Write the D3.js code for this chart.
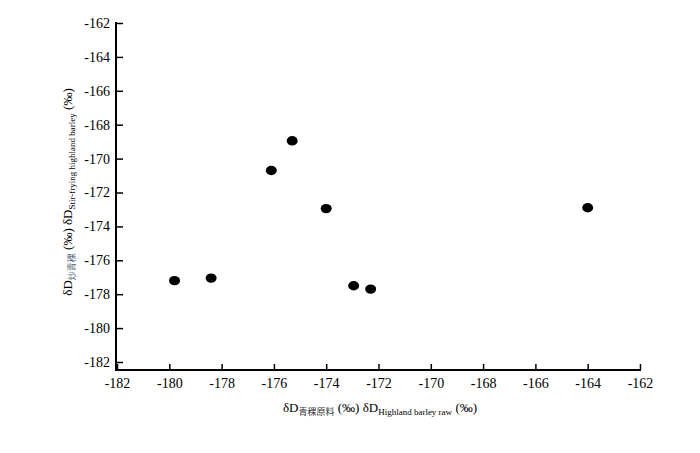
<!DOCTYPE html>
<html><head><meta charset="utf-8">
<script src="https://cdn.jsdelivr.net/npm/d3@7"></script>
<style>
body{margin:0;background:#fff;}
</style></head>
<body><svg id="c" width="700" height="453"></svg>
<script>
const rawValues = [-179.8, -178.4, -176.1, -175.3, -174.0, -172.95, -172.3, -164.0];
const stirValues = [-177.2, -177.05, -170.7, -168.95, -172.95, -177.5, -177.7, -172.9];
const xTicks = [-182,-180,-178,-176,-174,-172,-170,-168,-166,-164,-162];
const yTicks = [-182,-180,-178,-176,-174,-172,-170,-168,-166,-164,-162];

const SERIF = "'Liberation Serif','Times New Roman',serif";
const svg = d3.select("#c").attr("font-family",SERIF);
const x = d3.scaleLinear().domain([-182,-162]).range([117,640]);
const y = d3.scaleLinear().domain([-182,-162]).range([362,23]);
const axisY = 370, axisX = 116;

// x axis
const gx = svg.append("g").attr("transform",`translate(0,${axisY})`)
  .call(d3.axisBottom(x).tickValues(xTicks).tickFormat(d=>"-"+Math.abs(d)).tickSizeInner(-6).tickSizeOuter(0).tickPadding(14));
gx.attr("font-family",SERIF).attr("font-size",14);
gx.select(".domain").remove();
gx.selectAll(".tick line").attr("stroke","#000").attr("stroke-width",1.5);
gx.selectAll(".tick text").attr("font-size",14).attr("fill","#000").attr("dy","0.3em");
svg.append("line").attr("x1",axisX).attr("x2",x(-162)+1).attr("y1",axisY).attr("y2",axisY)
  .attr("stroke","#000").attr("stroke-width",2);

// y axis
const gy = svg.append("g").attr("transform",`translate(${axisX},0)`)
  .call(d3.axisLeft(y).tickValues(yTicks).tickFormat(d=>"-"+Math.abs(d)).tickSizeInner(-7).tickSizeOuter(0).tickPadding(6));
gy.attr("font-family",SERIF).attr("font-size",14);
gy.select(".domain").remove();
gy.selectAll(".tick line").attr("stroke","#000").attr("stroke-width",1.5);
gy.selectAll(".tick text").attr("font-size",14).attr("fill","#000").attr("x",-6);
svg.append("line").attr("x1",axisX).attr("x2",axisX).attr("y1",y(-162)-1).attr("y2",axisY+1)
  .attr("stroke","#000").attr("stroke-width",2);

// points
svg.append("g").selectAll("ellipse").data(rawValues.map((v,i)=>[v,stirValues[i]]))
  .join("ellipse").attr("cx",d=>x(d[0])).attr("cy",d=>y(d[1]))
  .attr("rx",5.5).attr("ry",4.7).attr("fill","#000");

// x title
const xt = svg.append("text").attr("x",380).attr("y",412).attr("text-anchor","middle").attr("font-size",13).attr("font-family",SERIF);
xt.append("tspan").text("δD");
xt.append("tspan").attr("font-size",9).attr("dy",3).attr("fill","#333").attr("font-family","'Noto Sans CJK SC'").text("青稞原料");
xt.append("tspan").attr("dy",-3).text(" (‰) δD");
xt.append("tspan").attr("font-size",9).attr("dy",3).text("Highland barley raw");
xt.append("tspan").attr("dy",-3).text(" (‰)");

// y title
const yt = svg.append("text").attr("transform","translate(72,192) rotate(-90)").attr("text-anchor","middle").attr("font-size",13).attr("font-family",SERIF);
yt.append("tspan").text("δD");
yt.append("tspan").attr("font-size",9).attr("dy",3).attr("fill","#5b6b7c").attr("font-family","'Noto Sans CJK SC'").text("炒青稞");
yt.append("tspan").attr("dy",-3).text(" (‰) δD");
yt.append("tspan").attr("font-size",9).attr("dy",3).text("Stir-frying highland barley");
yt.append("tspan").attr("dy",-3).text(" (‰)");
</script></body></html>
